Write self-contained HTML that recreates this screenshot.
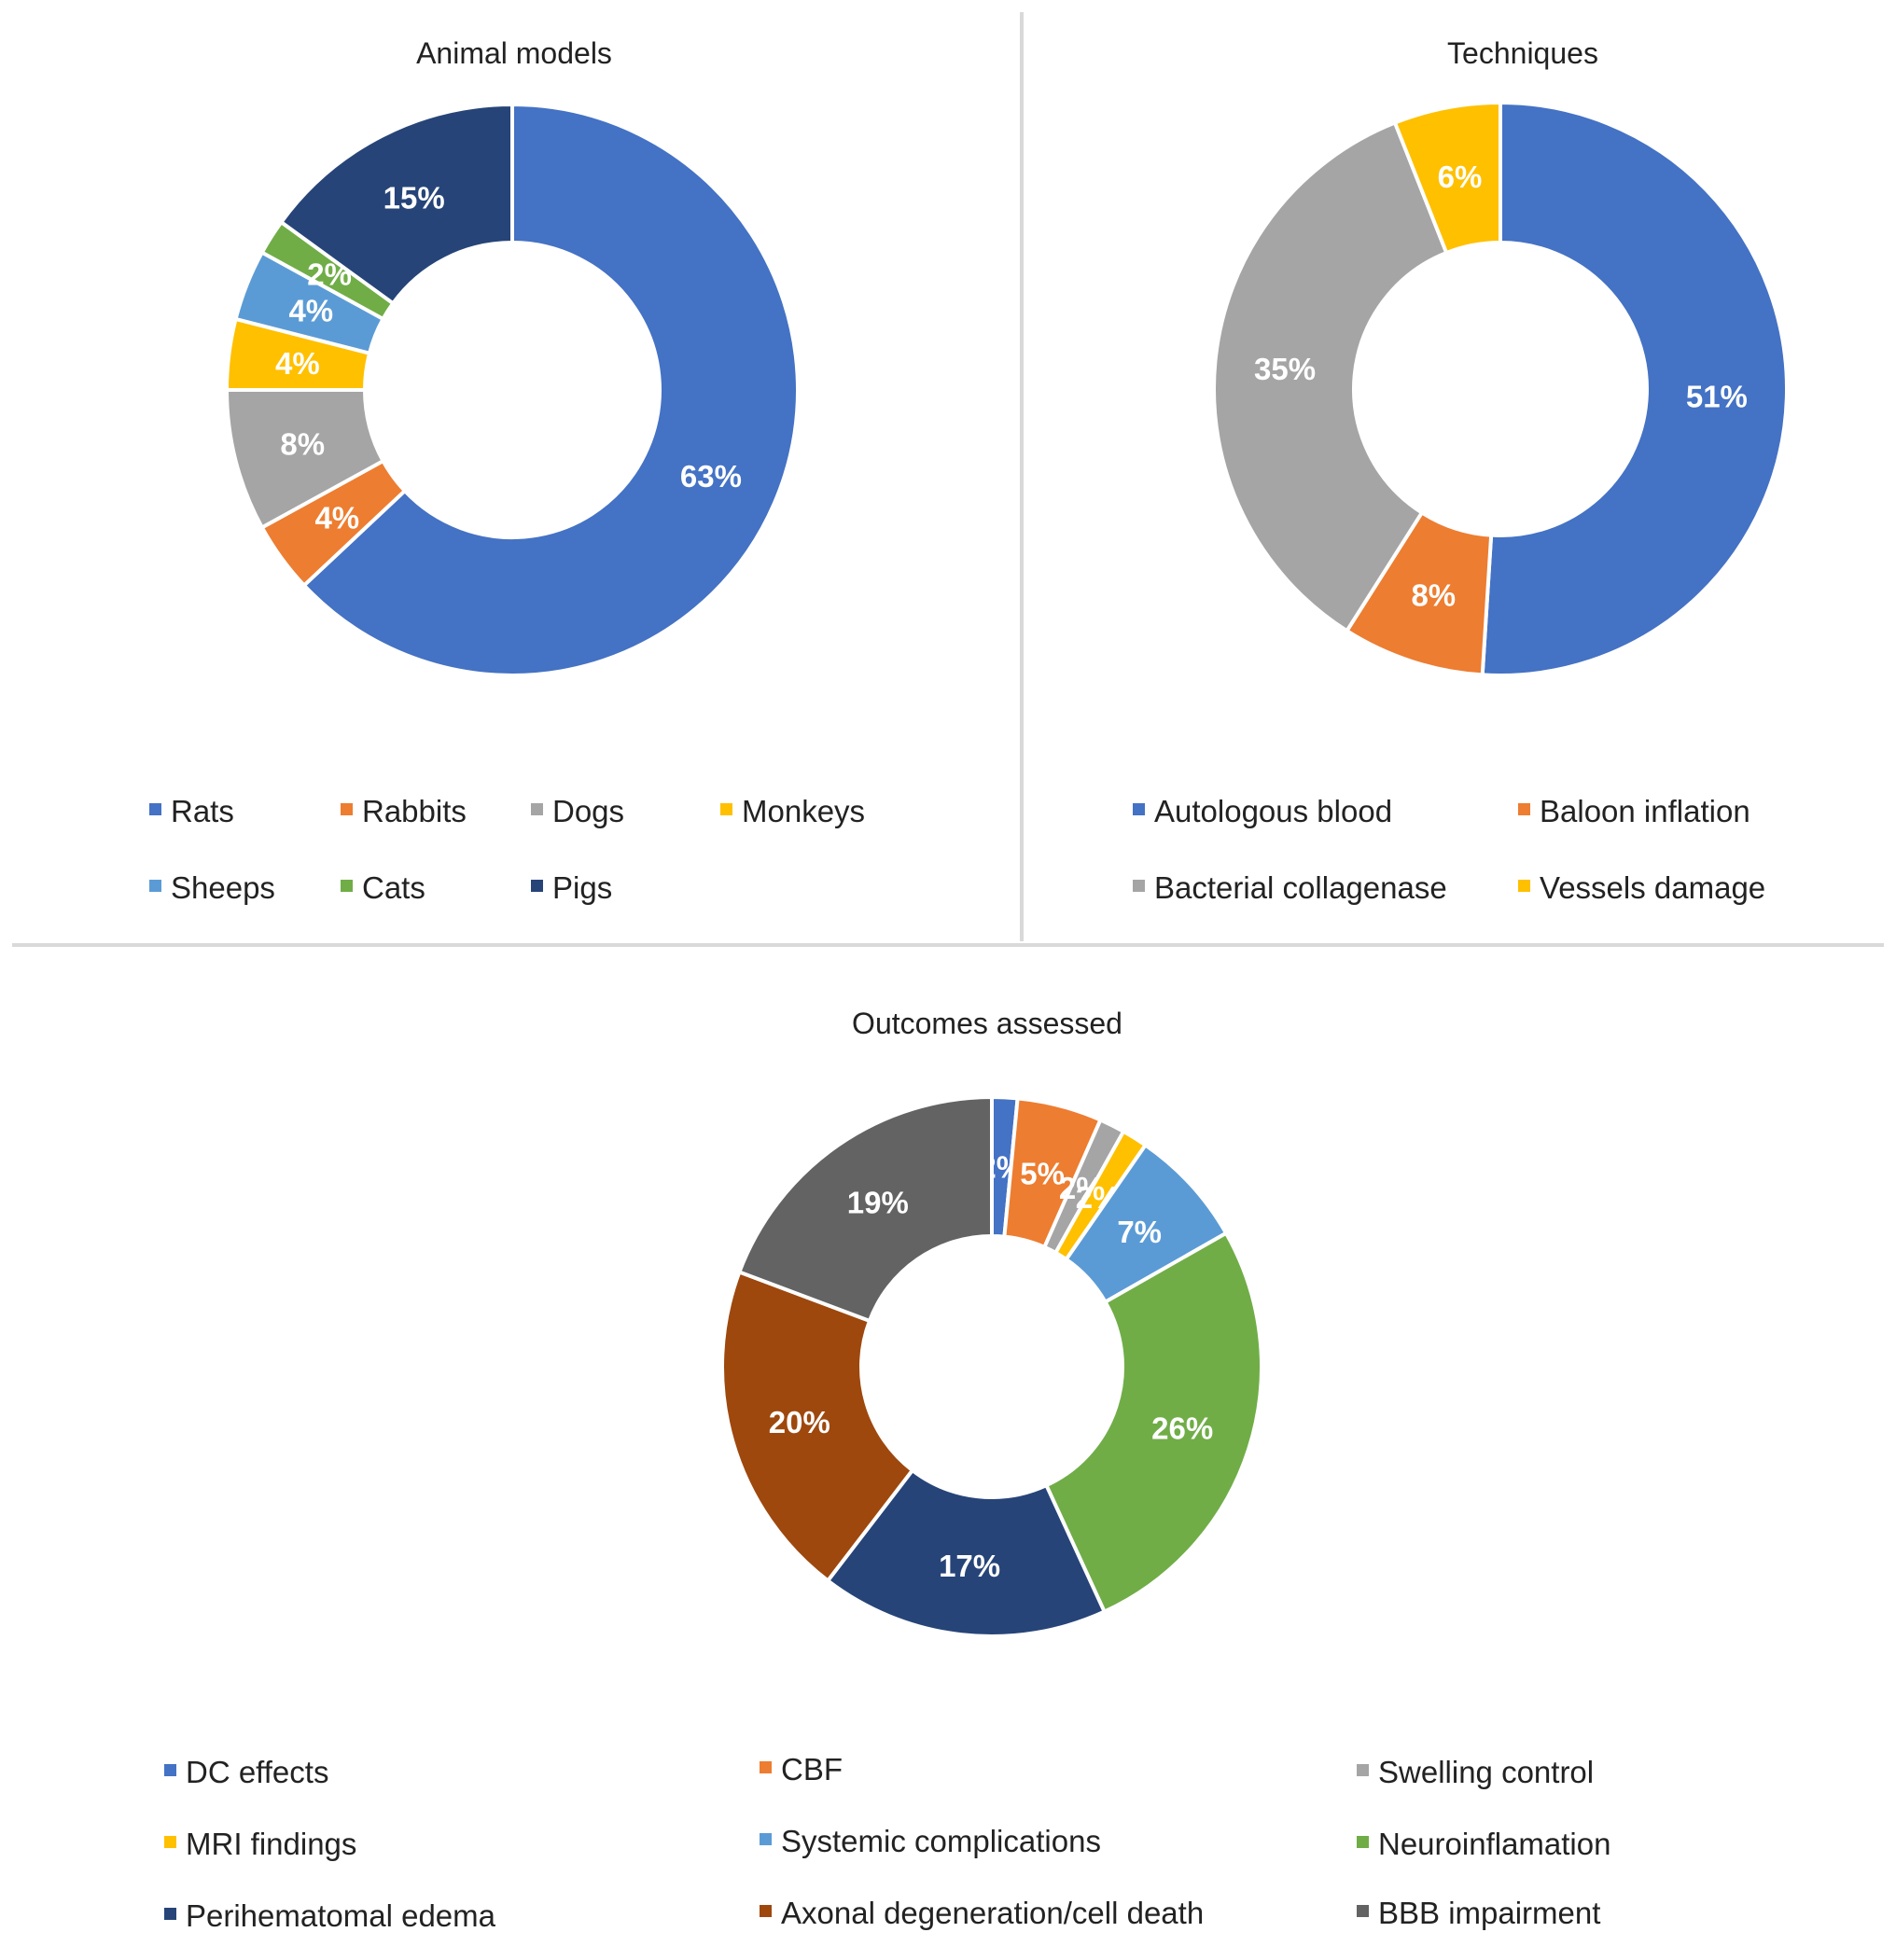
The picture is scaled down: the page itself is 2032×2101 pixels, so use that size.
<!DOCTYPE html>
<html><head><meta charset="utf-8"><style>
html,body{margin:0;padding:0;background:#fff}
svg text{font-family:"Liberation Sans",Arial,sans-serif}
</style></head><body>
<svg id="chart" width="2032" height="2096" viewBox="0 0 2032 2096" xmlns="http://www.w3.org/2000/svg">
<rect width="2032" height="2096" fill="#fff"/>
<line x1="1095" y1="13" x2="1095" y2="1009" stroke="#d9d9d9" stroke-width="4"/>
<line x1="13" y1="1013" x2="2019" y2="1013" stroke="#d9d9d9" stroke-width="4"/>
</svg>
<script>
const animalCats = ["Rats","Rabbits","Dogs","Monkeys","Sheeps","Cats","Pigs"];
const animalVals = [63,4,8,4,4,2,15];
const techCats = ["Autologous blood","Baloon inflation","Bacterial collagenase","Vessels damage"];
const techVals = [51,8,35,6];
const outCats = ["DC effects","CBF","Swelling control","MRI findings","Systemic complications","Neuroinflamation","Perihematomal edema","Axonal degeneration/cell death","BBB impairment"];
const outVals = [1.5,5,1.5,1.5,7,26,17,20,19];

const svg = document.getElementById('chart');
const NS = "http://www.w3.org/2000/svg";
function mk(tag, attrs){const e=document.createElementNS(NS,tag);for(const k in attrs)e.setAttribute(k,attrs[k]);svg.appendChild(e);return e;}

function donut(name, cats, vals, colors, cx, cy, R, r, title, tx, ty, legend){
  const t = mk('text',{x:tx,y:ty,'text-anchor':'middle','font-size':32,fill:'#222'});
  t.textContent = title;
  
  
  const total = vals.reduce((a,b)=>a+b,0);
  let acc = 0;
  vals.forEach((v,i)=>{
    const a0 = acc/total*2*Math.PI; acc += v; const a1 = acc/total*2*Math.PI;
    const p=(rad,a)=>[cx+rad*Math.sin(a), cy-rad*Math.cos(a)];
    const large = (a1-a0)>Math.PI?1:0;
    const [x0,y0]=p(R,a0),[x1,y1]=p(R,a1),[x2,y2]=p(r,a1),[x3,y3]=p(r,a0);
    const path = mk('path',{d:`M${x0},${y0}A${R},${R} 0 ${large} 1 ${x1},${y1}L${x2},${y2}A${r},${r} 0 ${large} 0 ${x3},${y3}Z`,fill:colors[i],stroke:'#fff','stroke-width':4});
    
    
    const am=(a0+a1)/2, rm=(R+r)/2;
    const [lx,ly]=p(rm,am);
    const lab = mk('text',{x:lx,y:ly+12,'text-anchor':'middle','font-size':33,'font-weight':'bold',fill:'#fff'});
    lab.textContent = Math.round(v/total*100)+'%';
    
    
  });
  legend.forEach((pos,i)=>{
    const m = mk('rect',{x:pos[0],y:pos[1]-9,width:13,height:13,fill:colors[i]});
    
    
    const lt = mk('text',{x:pos[0]+23,y:pos[1]+11,'font-size':33,fill:'#222'});
    lt.textContent = cats[i];
    
    
  });
}
const C = {blue:'#4472C4',orange:'#ED7D31',gray:'#A5A5A5',yellow:'#FFC000',lblue:'#5B9BD5',green:'#70AD47',navy:'#264478',brown:'#9E480E',dgray:'#636363'};
donut('animal-models', animalCats, animalVals, [C.blue,C.orange,C.gray,C.yellow,C.lblue,C.green,C.navy], 549,418,306,158,'Animal models',551,68,
  [[160,870],[365,870],[569,870],[772,870],[160,952],[365,952],[569,952]]);
donut('techniques', techCats, techVals, [C.blue,C.orange,C.gray,C.yellow], 1608,417,307,157,'Techniques',1632,68,
  [[1214,870],[1627,870],[1214,952],[1627,952]]);
donut('outcomes', outCats, outVals, [C.blue,C.orange,C.gray,C.yellow,C.lblue,C.green,C.navy,C.brown,C.dgray], 1063,1465,289,140,'Outcomes assessed',1058,1108,
  [[176,1900],[814,1897],[1454,1900],[176,1977],[814,1974],[1454,1977],[176,2054],[814,2051],[1454,2051]]);
</script>
</body></html>
